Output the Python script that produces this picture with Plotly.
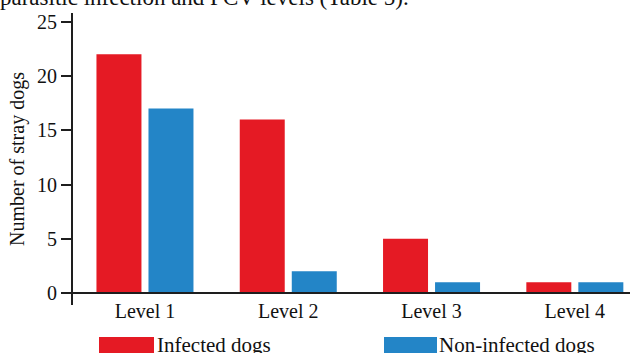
import plotly.graph_objects as go

# ---- data ----
categories = ["Level 1", "Level 2", "Level 3", "Level 4"]
infected = [22, 16, 5, 1]
non_infected = [17, 2, 1, 1]
series_names = ["Infected dogs", "Non-infected dogs"]
y_ticks = [0, 5, 10, 15, 20, 25]
y_title = "Number of stray dogs"
caption = "parasitic infection and PCV levels (Table 5)."

# ---- layout geometry ----
W, H = 633, 353
L, R, T, B = 62, 3, 13, 48
pw = W - L - R
ph = H - T - B


def px_x(p):
    return (p - L) / pw


def px_y(p):
    return 1 - (p - T) / ph


RED = "#E51A24"
BLUE = "#2385C7"
AX = "#1e1e1e"
FONT = "Liberation Serif, Times New Roman, serif"
TXT = "#111111"

fig = go.Figure()
fig.add_bar(x=categories, y=infected, name=series_names[0],
            marker=dict(color=RED, line=dict(width=0)))
fig.add_bar(x=categories, y=non_infected, name=series_names[1],
            marker=dict(color=BLUE, line=dict(width=0)))

fig.update_layout(
    width=W, height=H,
    margin=dict(l=L, r=R, t=T, b=B, pad=0, autoexpand=False),
    barmode="group", bargap=0.274, bargroupgap=0.135,
    showlegend=False,
    plot_bgcolor="white", paper_bgcolor="white",
    font=dict(family=FONT, color=TXT, size=20),
)

fig.update_xaxes(
    range=[-0.579, 3.385], anchor="free", position=(305 - 293) / ph,
    showline=True, linecolor=AX, linewidth=2, automargin=False,
    ticks="", showgrid=False, zeroline=False,
    tickfont=dict(family=FONT, size=20, color=TXT),
)
fig.update_yaxes(
    range=[-1.1, 25.8], anchor="free", position=px_x(72),
    tickvals=y_ticks, ticktext=[str(v) for v in y_ticks],
    showline=True, linecolor=AX, linewidth=2, automargin=False,
    ticks="outside", ticklen=10, tickwidth=2, tickcolor=AX,
    showgrid=False, zeroline=False,
    tickfont=dict(family=FONT, size=20, color=TXT),
    title=dict(text=y_title, standoff=6, font=dict(family=FONT, size=20, color=TXT)),
)

# legend drawn as large swatches + text
legend_items = [(series_names[0], RED, 99, 154, 156), (series_names[1], BLUE, 384, 437, 438)]
for name, col, x0, x1, tx in legend_items:
    fig.add_shape(type="rect", xref="paper", yref="paper",
                  x0=px_x(x0), x1=px_x(x1), y0=px_y(337), y1=px_y(360),
                  fillcolor=col, line=dict(width=0), layer="above")
    fig.add_annotation(text=name, xref="paper", yref="paper",
                       x=px_x(tx), y=px_y(332), xanchor="left", yanchor="top",
                       showarrow=False, borderpad=0,
                       font=dict(family=FONT, size=21, color=TXT))

# cropped caption line at the top
fig.add_annotation(text=caption, xref="paper", yref="paper",
                   x=px_x(-1), y=px_y(11), xanchor="left", yanchor="bottom",
                   showarrow=False, borderpad=0,
                   font=dict(family=FONT, size=23, color=TXT))

fig.write_html("out.html",
               config={"displayModeBar": False},
               post_script="document.body.style.margin='0';document.body.style.overflow='hidden';")
